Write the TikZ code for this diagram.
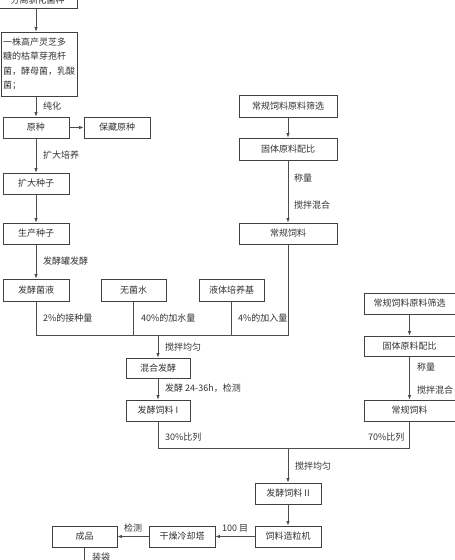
\documentclass[tikz,border=0pt]{standalone}
\usepackage{fontspec}
\setmainfont{Noto Sans CJK SC}
\usetikzlibrary{arrows.meta}
\begin{document}
\begin{tikzpicture}[x=1pt,y=-1pt,
  every node/.style={text=black!80, font=\fontsize{9}{11}\selectfont},
  box/.style={draw=black!75, line width=0.9pt, inner sep=0pt, align=center},
  lbl/.style={anchor=west, inner sep=0pt},
  con/.style={draw=black!70, line width=0.7pt},
  arr/.style={con, -{Latex[length=4.5pt,width=3.5pt]}}]
\useasboundingbox (0,0) rectangle (455,560);
\clip (0,0) rectangle (455,560);
\fill[white] (0,0) rectangle (455,560);
% left column
\node[box, minimum width=79pt, minimum height=22pt] (top) at (37.5,-2.5) {};
\node[inner sep=0pt] (toptxt) at (37.5,0.5) {分离驯化菌种};
\node[box, text width=72pt, align=left, inner sep=2pt, minimum height=64pt,
      font=\fontsize{9}{14.5}\selectfont] (b2) at (39,64)
  {一株高产灵芝多\\糖的枯草芽孢杆\\菌，酵母菌，乳酸\\菌；};
\node[box, minimum width=66pt, minimum height=21pt] (yz) at (36,127.5) {原种};
\node[box, minimum width=66pt, minimum height=21pt] (bc) at (117,127.5) {保藏原种};
\node[box, minimum width=66pt, minimum height=21pt] (kd) at (36,183.5) {扩大种子};
\node[box, minimum width=66pt, minimum height=21pt] (sc) at (36,233.5) {生产种子};
\node[box, minimum width=66pt, minimum height=22pt] (fjy) at (36,290) {发酵菌液};
\node[box, minimum width=65pt, minimum height=22pt] (wjs) at (133.5,290) {无菌水};
\node[box, minimum width=65pt, minimum height=22pt] (ytp) at (231.5,290) {液体培养基};
% column A
\node[box, minimum width=98pt, minimum height=22pt] (sxA) at (288,106) {常规饲料原料筛选};
\node[box, minimum width=98pt, minimum height=22pt] (gtA) at (288,149) {固体原料配比};
\node[box, minimum width=98pt, minimum height=21pt] (cgA) at (288,233.5) {常规饲料};
% middle
\node[box, minimum width=64pt, minimum height=20pt] (hh) at (158,368) {混合发酵};
\node[box, minimum width=64pt, minimum height=21pt] (fjI) at (158,410.5) {发酵饲料 I};
% column B
\node[box, minimum width=91pt, minimum height=21pt] (sxB) at (409.5,303.5) {常规饲料原料筛选};
\node[box, minimum width=91pt, minimum height=20pt] (gtB) at (409.5,346) {固体原料配比};
\node[box, minimum width=91pt, minimum height=21pt] (cgB) at (409.5,410.5) {常规饲料};
% bottom
\node[box, minimum width=66pt, minimum height=21pt] (fjII) at (288,493.5) {发酵饲料 II};
\node[box, minimum width=66pt, minimum height=21pt] (zl) at (288,536.5) {饲料造粒机};
\node[box, minimum width=66pt, minimum height=21pt] (gz) at (182,536.5) {干燥冷却塔};
\node[box, minimum width=65pt, minimum height=21pt] (cp) at (84.5,536.5) {成品};
% junctions
\coordinate (j1) at (158,335);
\coordinate (j2) at (288,448);
\coordinate (bag) at (84.5,570);
% connectors
\draw[arr] (top.south -| yz.north) -- (b2.north -| yz.north);
\draw[arr] (b2.south -| yz.north) -- (yz.north);
\draw[arr] (yz.east) -- (bc.west);
\draw[arr] (yz.south) -- (kd.north);
\draw[arr] (kd.south) -- (sc.north);
\draw[arr] (sc.south) -- (fjy.north);
\draw[arr] (sxA.south) -- (gtA.north);
\draw[arr] (gtA.south) -- (cgA.north);
\draw[con] (fjy.south) -- (fjy.south |- j1) -- (cgA.south |- j1) -- (cgA.south);
\draw[con] (wjs.south) -- (wjs.south |- j1);
\draw[con] (ytp.south) -- (ytp.south |- j1);
\draw[arr] (j1) -- (hh.north);
\draw[arr] (hh.south) -- (fjI.north);
\draw[arr] (sxB.south) -- (gtB.north);
\draw[arr] (gtB.south) -- (cgB.north);
\draw[con] (fjI.south) -- (fjI.south |- j2) -- (cgB.south |- j2) -- (cgB.south);
\draw[arr] (j2) -- (fjII.north);
\draw[arr] (fjII.south) -- (zl.north);
\draw[arr] (zl.west) -- (gz.east);
\draw[arr] (gz.west) -- (cp.east);
\draw[con] (cp.south) -- (bag);
% labels
\node[lbl] (l1) at (43,106) {纯化};
\node[lbl] (l2) at (43,155) {扩大培养};
\node[lbl] (l3) at (43,261) {发酵罐发酵};
\node[lbl] (l4) at (43,318) {2\%的接种量};
\node[lbl] (l5) at (141,318) {40\%的加水量};
\node[lbl] (l6) at (238,318) {4\%的加入量};
\node[lbl] (l7) at (294,178) {称量};
\node[lbl] (l8) at (294,205) {搅拌混合};
\node[lbl] (l9) at (165,347) {搅拌均匀};
\node[lbl] (l10) at (165,388) {发酵 24-36h，检测};
\node[lbl] (l11) at (165,437) {30\%比列};
\node[lbl] (l12) at (368,437) {70\%比列};
\node[lbl] (l13) at (417,367) {称量};
\node[lbl] (l14) at (417,390) {搅拌混合};
\node[lbl] (l15) at (295,466) {搅拌均匀};
\node[lbl] (l16) at (222,528) {100 目};
\node[lbl] (l17) at (124,528) {检测};
\node[lbl] (l18) at (92,557) {装袋};
\end{tikzpicture}
\end{document}
